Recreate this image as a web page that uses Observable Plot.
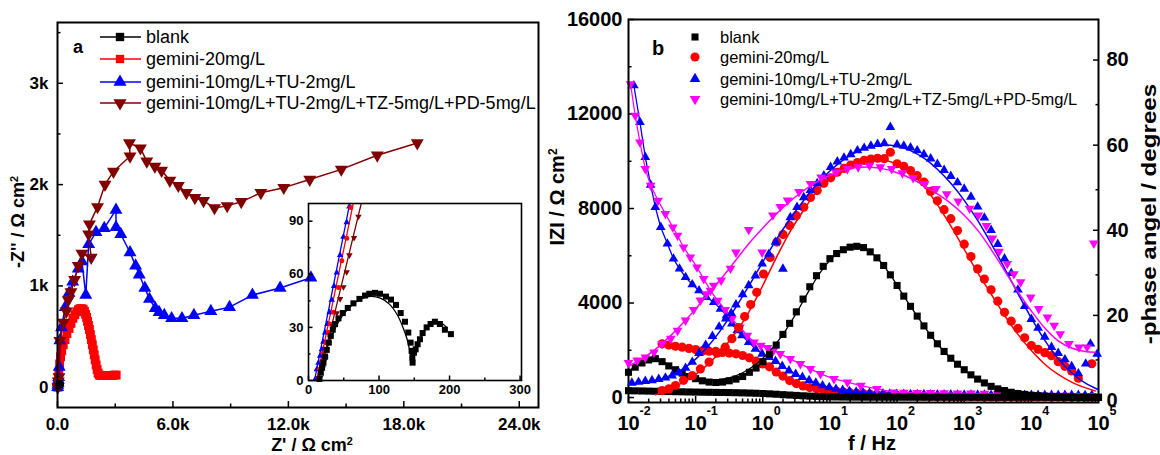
<!DOCTYPE html>
<html>
<head>
<meta charset="utf-8">
<script src="https://cdn.jsdelivr.net/npm/d3@7"></script>
<script src="https://cdn.jsdelivr.net/npm/@observablehq/plot@0.6"></script>
<style>
  html, body { margin: 0; padding: 0; background: #fff; }
  #wrap { position: relative; width: 1160px; height: 455px; overflow: hidden; background: #fff;
          font-family: "Liberation Sans", Arial, Helvetica, sans-serif; color: #000; }
  .lbl { position: absolute; white-space: nowrap; font-weight: bold; line-height: 1; }
  .lbl sup { font-size: 0.6em; vertical-align: 0.6em; line-height: 0; }
  .leg { position: absolute; white-space: nowrap; line-height: 1; transform: translateY(-50%); }
</style>
</head>
<body>
<div id="wrap"></div>
<script>
// ---------------- names & colours ----------------
const seriesNames = ["blank", "gemini-20mg/L", "gemini-10mg/L+TU-2mg/L", "gemini-10mg/L+TU-2mg/L+TZ-5mg/L+PD-5mg/L"];
const colorsA = ["#000000", "#ff0000", "#0000ff", "#800000"];
const colorsB = ["#000000", "#ff0000", "#0000ff", "#ff00ff"];

// ---------------- panel a: Nyquist (Ω cm²) ----------------
const blankRe = [15.6,17.5,19.3,21.2,23.6,25.9,28.8,31.6,34.4,37.7,42.5,48.6,55.7,63.7,72.2,80.2,86.3,94.3,101.4,109.9,117,124.1,130.7,136.8,141.5,144.8,146.2,147.2,147.6,149.5,151.9,154.7,158,161.8,167.5,173.1,179.2,186.3,193.4,201.9];
const blankIm = [0.9,4.4,7.2,10.1,13.5,17.3,21.4,25.2,28.7,31.9,35.1,38.1,41,43.6,46.1,48,49,49.5,49,47.4,45.7,42.7,38.1,33.2,27.1,21.4,16.7,12.9,10.1,15.7,17.6,20.5,23.3,26.8,30,31.9,33.2,31.9,28.7,26.2];
const blankFitRe = [14,20,27,36,47,60,74,88,102,115,126,134,140,144,147,152,160,170,180,188,196];
const blankFitIm = [0,10,19,28,36,42,46,47.5,46.5,43,37,30,23,16,10,17,25,30.5,33,32.5,30];

const g20Re = [14,40,70,110,160,220,300,390,490,600,700,800,900,1000,1090,1170,1250,1330,1400,1460,1510,1560,1610,1660,1710,1760,1810,1860,1910,1960,2010,2060,2110,2170,2250,2350,2450,2550,2650,2750,2850,2950,3050];
const g20Im = [0,60,150,230,300,360,420,470,530,580,630,680,715,745,765,775,775,770,750,720,690,650,610,570,520,470,420,370,320,270,220,175,140,120,115,115,115,115,115,115,115,120,120];

const tuRe = [9,20,33,45,58,90,120,210,400,600,790,1080,1270,1470,1620,2000,2430,3040,3040,3290,3770,4060,4250,4540,4780,5080,5280,5550,5930,6470,7090,7970,8940,10130,11570,13170];
const tuIm = [0,22,45,71,98,200,460,590,790,930,1040,1170,1240,910,1410,1530,1570,1750,1580,1510,1330,1200,1110,980,870,780,740,710,680,680,710,750,790,910,980,1080];

const tzRe = [16,40,76,120,310,460,560,700,890,1080,1270,1750,1620,1660,2080,2470,2910,3770,3740,4310,4640,5060,5410,5840,6280,6700,7140,7590,8160,8820,9550,10570,11760,13110,14750,16620,18700];
const tzIm = [0,60,100,460,640,750,860,940,1060,1200,1320,1280,1510,1610,1780,2000,2130,2280,2410,2360,2230,2180,2140,2040,1990,1920,1870,1840,1770,1790,1830,1920,1970,2050,2150,2290,2410];

// inset (high-frequency part)
const tuInRe = [9.4,11.8,14.2,16.5,18.9,21.2,23.6,26.9,29.7,33,36.3,40.1,44.8,49.5,54.2,58];
const tuInIm = [0.6,6.3,10,13.9,17.6,21.8,27.1,31.9,38.5,45.5,53.3,60.9,70.8,81.2,89.4,98.3];
const g20InRe = [13.7,15.6,18.9,21.2,25,28.3,30.7,35.4,42.5,47.2,54.2,59.9];
const g20InIm = [1.5,6.3,11,15.7,21.4,27.1,31.9,38.5,52.6,67.6,80.3,97.7];
const tzInRe = [16.5,20.3,23.6,25.9,30.7,34.4,40.1,44.8,49.5,54.2,58,64.6,70.8];
const tzInIm = [1.5,7.2,12,17.6,24.3,30.9,38.1,46.1,52.8,61.3,70.8,80.6,92.6];
const tuInFitRe = [8.5,59.5], tuInFitIm = [0,102];
const g20InFitRe = [11.5,64.5], g20InFitIm = [0,102];
const tzInFitRe = [14,76], tzInFitIm = [0,102];

// ---------------- panel b: Bode  ([log10 f, value]) ----------------
const blankLogF = [-2.0,-1.9,-1.8,-1.7,-1.6,-1.5,-1.4,-1.3,-1.2,-1.1,-1.0,-0.9,-0.8,-0.7,-0.6,-0.5,-0.4,-0.3,-0.2,-0.1,0.0,0.1,0.2,0.3,0.4,0.5,0.6,0.7,0.8,0.9,1.0,1.1,1.2,1.3,1.4,1.5,1.6,1.7,1.8,1.9,2.0,2.1,2.2,2.3,2.4,2.5,2.6,2.7,2.8,2.9,3.0,3.1,3.2,3.3,3.4,3.5,3.6,3.7,3.8,3.9,4.0,4.1,4.2,4.3,4.4,4.5,4.6,4.7,4.8,4.9,5.0];
const blankPhase = [7.1,8.3,9.3,10.0,10.3,9.6,8.6,7.7,6.9,6.1,5.6,5.1,4.8,4.7,4.8,5.1,5.5,6.1,7.1,8.1,9.6,11.3,13.5,16.0,18.6,21.3,24.3,27.2,29.8,32.0,33.8,35.0,35.9,36.5,36.7,36.4,35.4,34.0,32.2,30.0,27.5,25.0,22.6,20.3,18.0,15.8,13.8,12.0,10.4,9.0,7.7,6.5,5.5,4.6,3.8,3.2,2.8,2.4,2.1,1.9,1.7,1.6,1.5,1.4,1.3,1.3,1.2,1.2,1.2,1.2,1.2];
const blankZ = [290,284,278,272,266,260,254,248,242,236,230,226,222,218,214,210,204,198,190,181,170,156,140,122,105,90,74,60,48,38,30,25,21,19,17,16,15,15,14,14,14,14,14,13,13,13,13,13,13,13,13,13,13,12,12,12,12,12,12,12,12,12,12,12,12,12,12,12,12,12,12];
const blankPhaseFit = [[-2.0,7.3],[-1.8,9.4],[-1.6,10.1],[-1.45,9.3],[-1.3,7.2],[-1.1,6.0],[-0.9,5.4],[-0.7,5.3],[-0.5,5.8],[-0.3,7.0],[-0.1,9.0],[0.1,12.0],[0.3,16.0],[0.5,21.0],[0.7,26.6],[0.9,31.5],[1.1,34.9],[1.3,36.5],[1.5,36.4],[1.7,34.0],[1.9,30.0],[2.1,25.0],[2.3,20.3],[2.5,15.8],[2.7,12.0],[2.9,9.0],[3.1,6.5],[3.3,4.6],[3.5,3.2],[3.7,2.3],[3.9,1.7],[4.2,1.2],[4.6,0.9],[5.0,0.8]];

const g20Phase = [[-1.50,2.8],[-1.40,3.2],[-1.30,4.0],[-1.18,5.2],[-1.05,6.3],[-0.93,7.9],[-0.80,9.5],[-0.68,11.6],[-0.56,13.0],[-0.46,15.0],[-0.36,17.6],[-0.27,20.2],[-0.18,23.0],[-0.09,25.9],[0.01,30.2],[0.11,34.1],[0.21,37.7],[0.30,39.5],[0.40,41.6],[0.50,43.9],[0.61,45.9],[0.71,48.2],[0.81,49.8],[0.91,51.5],[1.01,52.8],[1.11,54.1],[1.21,55.0],[1.31,55.8],[1.41,56.4],[1.51,56.9],[1.61,57.2],[1.71,57.4],[1.81,57.3],[1.90,58.8],[2.00,56.1],[2.10,55.5],[2.20,54.5],[2.30,53.3],[2.40,51.8],[2.50,49.6],[2.60,47.4],[2.70,45.3],[2.80,43.2],[2.90,40.4],[3.00,37.2],[3.10,34.3],[3.20,31.4],[3.30,29.0],[3.40,26.5],[3.50,23.8],[3.60,21.2],[3.70,19.1],[3.80,17.4],[3.90,15.2],[4.00,13.4],[4.10,12.5],[4.20,11.7],[4.30,11.0],[4.40,9.6],[4.50,8.5],[4.60,7.4],[4.70,5.7],[4.90,9.1]];
const g20Z = [[-1.50,2273],[-1.40,2220],[-1.30,2170],[-1.20,2130],[-1.10,2080],[-1.00,2030],[-0.90,1975],[-0.80,1960],[-0.70,1950],[-0.60,1910],[-0.50,1880],[-0.40,1850],[-0.30,1780],[-0.20,1680],[-0.10,1540],[0.00,1420],[0.10,1300],[0.20,1080],[0.30,910],[0.40,720],[0.50,590],[0.60,490],[0.70,420],[0.80,370],[0.90,330],[1.00,296],[1.10,260],[1.20,230],[1.30,200],[1.40,180],[1.50,160],[1.60,140],[1.70,125],[1.80,112],[1.90,100],[2.00,90],[2.10,80],[2.20,72],[2.30,65],[2.40,58],[2.50,52],[2.60,47],[2.70,43],[2.80,39],[2.90,36],[3.00,33],[3.10,31],[3.20,29],[3.30,27],[3.40,25],[3.50,24],[3.60,23],[3.70,22],[3.80,21],[3.90,20],[4.00,20],[4.10,19],[4.20,19],[4.30,18],[4.40,18],[4.50,18],[4.60,17],[4.70,17],[4.80,17],[4.90,17]];
const g20PhaseFit = [[-1.6,1.8],[-1.4,3.0],[-1.2,4.6],[-1.0,6.6],[-0.8,9.2],[-0.6,12.5],[-0.4,16.5],[-0.2,21.5],[0,27.5],[0.2,34],[0.4,40],[0.6,45],[0.8,49.5],[1.0,52.8],[1.2,55.2],[1.4,56.6],[1.6,57.2],[1.8,57],[2.0,56],[2.2,54],[2.4,50.8],[2.6,46.5],[2.8,41.5],[3.0,36],[3.2,30.5],[3.4,25.5],[3.6,20.5],[3.8,16],[4.0,12.2],[4.2,9],[4.4,6.6],[4.6,4.8],[4.8,3.5],[4.95,2.7]];

const tuPhase = [[-1.95,4.6],[-1.85,4.8],[-1.75,5.0],[-1.65,5.2],[-1.55,5.5],[-1.45,5.8],[-1.35,6.3],[-1.25,7.0],[-1.15,8.1],[-1.05,9.5],[-0.95,11.6],[-0.85,13.5],[-0.75,15.6],[-0.65,17.8],[-0.55,19.7],[-0.47,21.0],[-0.40,23.0],[-0.30,25.4],[-0.21,27.5],[-0.11,29.8],[-0.01,32.6],[0.09,34.9],[0.19,37.7],[0.30,31.4],[0.41,43.5],[0.51,45.9],[0.61,48.2],[0.71,49.9],[0.81,51.5],[0.91,53.3],[1.01,55.3],[1.11,56.6],[1.21,57.5],[1.31,58.3],[1.41,59.2],[1.51,59.8],[1.61,60.3],[1.71,60.7],[1.81,60.9],[1.90,64.7],[2.00,60.6],[2.10,60.3],[2.20,59.9],[2.30,59.2],[2.40,58.3],[2.50,57.3],[2.60,56.0],[2.70,54.6],[2.80,53.2],[2.90,51.7],[3.00,50.2],[3.10,48.3],[3.20,46.0],[3.30,43.4],[3.40,40.5],[3.50,37.2],[3.60,33.8],[3.70,30.4],[3.80,26.5],[3.90,22.6],[4.00,19.6],[4.10,17.5],[4.20,15.4],[4.30,13.0],[4.40,11.6],[4.50,10.1],[4.60,8.5],[4.70,6.8],[4.81,9.1],[4.88,13.8],[4.98,11.4]];
const tuZ = [[-1.92,13207],[-1.83,11654],[-1.75,10172],[-1.67,9000],[-1.60,8055],[-1.52,7209],[-1.42,6506],[-1.33,5871],[-1.24,5448],[-1.15,5092],[-1.05,4783],[-0.95,4529],[-0.84,4246],[-0.73,4034],[-0.63,3754],[-0.54,3471],[-0.46,3120],[-0.38,2836],[-0.31,2624],[-0.21,2341],[-0.11,2061],[-0.01,1850],[0.09,1706],[0.19,1540],[0.29,1330],[0.39,1140],[0.49,990],[0.59,860],[0.69,730],[0.79,620],[0.89,510],[0.99,430],[1.09,360],[1.19,310],[1.29,270],[1.39,240],[1.49,215],[1.59,195],[1.69,180],[1.79,168],[1.89,158],[1.99,150],[2.1,145],[2.2,140],[2.3,136],[2.4,132],[2.5,128],[2.6,125],[2.7,122],[2.8,120],[2.9,118],[3.0,116],[3.1,114],[3.2,112],[3.3,110],[3.4,108],[3.5,107],[3.6,106],[3.7,105],[3.8,104],[3.9,103],[4.0,102],[4.1,101],[4.2,100],[4.3,100],[4.4,99],[4.5,99],[4.6,98],[4.7,98],[4.8,97],[4.9,97]];
const tuPhaseFit = [[-2.0,4.3],[-1.8,4.6],[-1.6,5.2],[-1.4,6.2],[-1.2,7.8],[-1.0,10.2],[-0.8,13.5],[-0.6,17.6],[-0.4,22.4],[-0.2,27.6],[0,33],[0.2,38.2],[0.4,43],[0.6,47.3],[0.8,51.2],[1.0,54.4],[1.2,57],[1.4,58.9],[1.6,60.1],[1.8,60.5],[2.0,60.2],[2.2,59.2],[2.4,57.4],[2.6,54.8],[2.8,51.5],[3.0,47.5],[3.2,42.8],[3.4,37.4],[3.6,31.6],[3.8,25.6],[4.0,19.8],[4.2,14.6],[4.4,10.3],[4.6,7],[4.8,4.6],[5.0,3.0]];

const tzPhase = [[-2.0,9.3],[-1.87,9.9],[-1.75,10.6],[-1.62,11.8],[-1.50,13.8],[-1.37,15.0],[-1.27,16.9],[-1.15,19.3],[-1.03,21.8],[-0.93,24.0],[-0.84,25.5],[-0.73,27.5],[-0.62,28.7],[-0.48,31.5],[-0.40,35.3],[-0.21,40.6],[-0.01,35.3],[0.15,44.0],[0.26,46.0],[0.37,47.5],[0.54,49.5],[0.71,51.4],[0.87,52.9],[1.09,54.1],[1.26,54.9],[1.42,55.3],[1.59,55.7],[1.75,55.3],[1.92,54.9],[2.08,53.9],[2.24,52.8],[2.41,51.4],[2.58,50.2],[2.74,49.0],[2.91,47.3],[3.08,45.6],[3.21,44.0],[3.33,41.5],[3.42,38.6],[3.52,35.5],[3.64,32.6],[3.74,30.2],[3.84,28.3],[3.99,24.7],[4.11,22.0],[4.24,20.0],[4.34,18.1],[4.43,16.1],[4.56,13.8],[4.71,13.0],[4.83,13.0],[4.93,37.4]];
const tzZ = [[-1.97,13270],[-1.90,11937],[-1.83,10807],[-1.75,9680],[-1.67,8974],[-1.56,8339],[-1.45,7776],[-1.34,7209],[-1.27,6857],[-1.18,6362],[-1.08,5939],[-0.98,5516],[-0.88,5025],[-0.78,4529],[-0.67,4106],[-0.56,3712],[-0.46,3331],[-0.34,2976],[-0.23,2624],[-0.13,2341],[-0.03,2200],[0.07,2100],[0.16,1990],[0.26,1850],[0.41,1638],[0.56,1426],[0.71,1215],[0.86,1003],[1.06,791],[1.26,648],[1.46,508],[1.70,367],[1.95,226],[2.1,215],[2.3,205],[2.5,198],[2.7,190],[2.9,183],[3.1,175],[3.3,165],[3.5,150],[3.7,130],[3.9,110],[4.1,95],[4.3,88],[4.5,82],[4.7,78],[4.9,75]];
const tzPhaseFit = [[-2.0,8.5],[-1.8,10.3],[-1.6,12.5],[-1.4,15.3],[-1.2,18.5],[-1.0,22],[-0.8,25.8],[-0.6,29.5],[-0.4,33.5],[-0.2,37.5],[0,41],[0.2,44.3],[0.4,47.2],[0.6,49.7],[0.8,51.8],[1.0,53.4],[1.2,54.6],[1.4,55.2],[1.6,55.3],[1.8,54.9],[2.0,54],[2.2,52.7],[2.4,51],[2.6,49],[2.8,46.8],[3.0,44],[3.2,40.5],[3.4,36],[3.6,31],[3.8,26],[4.0,21.5],[4.2,17.5],[4.4,14.5],[4.6,12.8],[4.8,12.0],[4.95,11.8]];

// ---------------- ticks & labels ----------------
const aXTicks = [0, 6000, 12000, 18000, 24000], aXTickLabels = ["0.0", "6.0k", "12.0k", "18.0k", "24.0k"], aXMinor = [3000, 9000, 15000, 21000];
const aYTicks = [0, 1000, 2000, 3000], aYTickLabels = ["0", "1k", "2k", "3k"], aYMinor = [500, 1500, 2500, 3500];
const inXTicks = [0, 100, 200, 300], inXMinor = [50, 150, 250];
const inYTicks = [0, 30, 60, 90], inYMinor = [15, 45, 75];
const bZTicks = [0, 4000, 8000, 12000, 16000], bZMinor = [2000, 6000, 10000, 14000];
const bPTicks = [0, 20, 40, 60, 80], bPMinor = [10, 30, 50, 70];
const bDecades = [-2, -1, 0, 1, 2, 3, 4, 5];

// ---------------- helpers ----------------
const FONT = '"Liberation Sans", Arial, Helvetica, sans-serif';
const sqrt3 = Math.sqrt(3);
const triDown = { draw(ctx, size) { const y = -Math.sqrt(size / (sqrt3 * 3)); ctx.moveTo(0, -y * 2); ctx.lineTo(-sqrt3 * y, y); ctx.lineTo(sqrt3 * y, y); ctx.closePath(); } };
const nyq = (re, im) => re.map((x, i) => ({x, y: im[i]}));
const bode = arr => arr.map(([lf, v]) => ({f: 10 ** lf, v}));
const blankPhasePts = blankLogF.map((lf, i) => ({f: 10 ** lf, v: blankPhase[i]}));
const blankZPts = blankLogF.map((lf, i) => ({f: 10 ** lf, v: blankZ[i]}));
const mapOf = (k, v) => new Map(k.map((t, i) => [t, v[i]]));
const aXLab = mapOf(aXTicks, aXTickLabels), aYLab = mapOf(aYTicks, aYTickLabels);
const bXMinor = [];
for (let e = -2; e < 5; e++) for (let m = 2; m <= 9; m++) bXMinor.push(m * 10 ** e);
const baseStyle = {fontFamily: FONT, background: "transparent", color: "#000", overflow: "visible"};
const tk = {strokeWidth: 1.5, label: null};
const bold = (s) => ({fontSize: s, fontWeight: "bold"});

// ---------------- panel a main ----------------
const plotA = Plot.plot({
  width: 560, height: 455, marginLeft: 57, marginRight: 22, marginTop: 22, marginBottom: 48,
  x: {domain: [0, 25000]}, y: {domain: [-200, 3600]},
  style: baseStyle,
  marks: [
    Plot.axisX({...tk, ticks: aXMinor, tickSize: -3.5, tickFormat: () => ""}),
    Plot.axisY({...tk, ticks: aYMinor, tickSize: -3.5, tickFormat: () => ""}),
    Plot.axisX({...tk, ...bold(17), ticks: aXTicks, tickSize: -6, tickPadding: 16, tickFormat: d => aXLab.get(d)}),
    Plot.axisY({...tk, ...bold(17), ticks: aYTicks, tickSize: -6, tickPadding: 15, tickFormat: d => aYLab.get(d)}),
    Plot.line(nyq(g20Re, g20Im), {x: "x", y: "y", stroke: colorsA[1], strokeWidth: 1.5}),
    Plot.dot(nyq(g20Re, g20Im), {x: "x", y: "y", symbol: "square", r: 5, fill: colorsA[1]}),
    Plot.line(nyq(tuRe, tuIm), {x: "x", y: "y", stroke: colorsA[2], strokeWidth: 1.5}),
    Plot.dot(nyq(tuRe, tuIm), {x: "x", y: "y", symbol: "triangle", r: 4.8, fill: colorsA[2]}),
    Plot.line(nyq(tzRe, tzIm), {x: "x", y: "y", stroke: colorsA[3], strokeWidth: 1.5}),
    Plot.dot(nyq(tzRe, tzIm), {x: "x", y: "y", symbol: triDown, r: 4.8, fill: colorsA[3]}),
    Plot.line(nyq(blankRe, blankIm), {x: "x", y: "y", stroke: colorsA[0], strokeWidth: 1.5}),
    Plot.dot(nyq(blankRe, blankIm), {x: "x", y: "y", symbol: "square", r: 2.5, fill: colorsA[0]}),
    Plot.frame({stroke: "#000", strokeWidth: 2})
  ]
});

// ---------------- panel a inset ----------------
const plotIn = Plot.plot({
  width: 260, height: 205, marginLeft: 38, marginRight: 9, marginTop: 8, marginBottom: 20,
  x: {domain: [0, 302]}, y: {domain: [0, 100]},
  style: baseStyle,
  marks: [
    Plot.axisX({...tk, ticks: inXMinor, tickSize: -2.5, tickFormat: () => ""}),
    Plot.axisY({...tk, ticks: inYMinor, tickSize: -2.5, tickFormat: () => ""}),
    Plot.axisX({...tk, ...bold(13), ticks: inXTicks, tickSize: -4.5, tickPadding: 9}),
    Plot.axisY({...tk, ...bold(13), ticks: inYTicks, tickSize: -4.5, tickPadding: 9.5}),
    Plot.line(nyq(blankFitRe, blankFitIm), {x: "x", y: "y", stroke: colorsA[0], strokeWidth: 1.3, curve: "catmull-rom"}),
    Plot.line(nyq(tuInFitRe, tuInFitIm), {x: "x", y: "y", stroke: colorsA[2], strokeWidth: 1.3, clip: true}),
    Plot.line(nyq(g20InFitRe, g20InFitIm), {x: "x", y: "y", stroke: colorsA[1], strokeWidth: 1.3, clip: true}),
    Plot.line(nyq(tzInFitRe, tzInFitIm), {x: "x", y: "y", stroke: colorsA[3], strokeWidth: 1.3, clip: true}),
    Plot.dot(nyq(tuInRe, tuInIm), {x: "x", y: "y", symbol: "triangle", r: 2.4, fill: colorsA[2]}),
    Plot.dot(nyq(g20InRe, g20InIm), {x: "x", y: "y", symbol: "circle", r: 2.5, fill: colorsA[1]}),
    Plot.dot(nyq(tzInRe, tzInIm), {x: "x", y: "y", symbol: triDown, r: 2.4, fill: colorsA[3]}),
    Plot.dot(nyq(blankRe, blankIm), {x: "x", y: "y", symbol: "square", r: 3.4, fill: colorsA[0]}),
    Plot.frame({stroke: "#000", strokeWidth: 1.6})
  ]
});

// ---------------- panel b: |Z| ----------------
const bGeom = {width: 600, height: 455, marginLeft: 68, marginRight: 62, marginTop: 19, marginBottom: 53};
const plotBZ = Plot.plot({
  ...bGeom,
  x: {type: "log", domain: [0.01, 1e5]}, y: {domain: [-210, 16000]},
  style: baseStyle,
  marks: [
    Plot.axisX({...tk, ticks: bXMinor, tickSize: -3.5, tickFormat: () => ""}),
    Plot.axisX({...tk, ...bold(20), ticks: bDecades.map(e => 10 ** e), tickSize: -6, tickPadding: 19, tickFormat: () => "10"}),
    Plot.text(bDecades, {x: e => 10 ** e, text: e => String(e), frameAnchor: "bottom", dx: 11, dy: 12, textAnchor: "start", ...bold(12.5)}),
    Plot.axisY({...tk, ticks: bZMinor, tickSize: -3.5, tickFormat: () => ""}),
    Plot.axisY({...tk, ...bold(20), ticks: bZTicks, tickSize: -6, tickPadding: 12, tickFormat: d => String(d)}),
    Plot.line(bode(g20Z), {x: "f", y: "v", stroke: colorsB[1], strokeWidth: 1.3}),
    Plot.dot(bode(g20Z), {x: "f", y: "v", symbol: "circle", r: 4.6, fill: colorsB[1]}),
    Plot.line(bode(tuZ), {x: "f", y: "v", stroke: colorsB[2], strokeWidth: 1.3}),
    Plot.dot(bode(tuZ), {x: "f", y: "v", symbol: "triangle", r: 3.6, fill: colorsB[2]}),
    Plot.line(bode(tzZ), {x: "f", y: "v", stroke: colorsB[3], strokeWidth: 1.3}),
    Plot.dot(bode(tzZ), {x: "f", y: "v", symbol: triDown, r: 3.6, fill: colorsB[3]}),
    Plot.line(blankZPts, {x: "f", y: "v", stroke: colorsB[0], strokeWidth: 1.3}),
    Plot.dot(blankZPts, {x: "f", y: "v", symbol: "square", r: 4, fill: colorsB[0]}),
    Plot.frame({stroke: "#000", strokeWidth: 2})
  ]
});

// ---------------- panel b: phase ----------------
const plotBP = Plot.plot({
  ...bGeom,
  x: {type: "log", domain: [0.01, 1e5], axis: null}, y: {domain: [0, 90]},
  style: baseStyle,
  marks: [
    Plot.axisY({...tk, anchor: "right", ticks: bPMinor, tickSize: -3.5, tickFormat: () => ""}),
    Plot.axisY({...tk, ...bold(20), anchor: "right", ticks: bPTicks, tickSize: -6, tickPadding: 14, dy: -2}),
    Plot.dot(blankPhasePts, {x: "f", y: "v", symbol: "square", r: 4, fill: colorsB[0]}),
    Plot.line(blankPhaseFit.map(([lf, v]) => ({f: 10 ** lf, v})), {x: "f", y: "v", stroke: colorsB[0], strokeWidth: 1.3, curve: "catmull-rom"}),
    Plot.dot(bode(g20Phase), {x: "f", y: "v", symbol: "circle", r: 4.6, fill: colorsB[1]}),
    Plot.line(bode(g20PhaseFit), {x: "f", y: "v", stroke: colorsB[1], strokeWidth: 1.5, curve: "catmull-rom"}),
    Plot.dot(bode(tuPhase), {x: "f", y: "v", symbol: "triangle", r: 3.6, fill: colorsB[2]}),
    Plot.line(bode(tuPhaseFit), {x: "f", y: "v", stroke: colorsB[2], strokeWidth: 1.5, curve: "catmull-rom"}),
    Plot.dot(bode(tzPhase), {x: "f", y: "v", symbol: triDown, r: 3.6, fill: colorsB[3]}),
    Plot.line(bode(tzPhaseFit), {x: "f", y: "v", stroke: colorsB[3], strokeWidth: 1.5, curve: "catmull-rom"})
  ]
});

// ---------------- assemble ----------------
const wrap = document.getElementById("wrap");
function place(node, left, top) { node.style.position = "absolute"; node.style.left = left + "px"; node.style.top = top + "px"; wrap.appendChild(node); }
place(plotA, 0, 0);
place(plotIn, 270, 195);
place(plotBZ, 560, 0);
place(plotBP, 560, 0);

function lbl(html, x, y, size, rot, stretch) {
  const d = document.createElement("div");
  d.className = "lbl"; d.innerHTML = html; d.style.fontSize = size + "px";
  d.style.left = x + "px"; d.style.top = y + "px";
  d.style.transform = "translate(-50%,-50%)" + (rot ? ` rotate(${rot}deg)` : "") + (stretch ? ` scaleX(${stretch})` : "");
  wrap.appendChild(d);
}
lbl("-Z'' / &Omega; cm<sup>2</sup>", 18, 222, 18, -90);
lbl("Z' / &Omega; cm<sup>2</sup>", 312, 445, 18);
lbl("IZI / &Omega; cm<sup>2</sup>", 557, 197, 20, -90);
lbl("f / Hz", 872, 443, 20);
lbl("-phase angel / degrees", 1148, 214, 21, -90, 1.15);
lbl("a", 78, 47, 18);
lbl("b", 658, 48, 20);

// legends
const NS = "http://www.w3.org/2000/svg";
const ov = document.createElementNS(NS, "svg");
ov.setAttribute("width", 1160); ov.setAttribute("height", 455);
ov.style.position = "absolute"; ov.style.left = "0"; ov.style.top = "0";
wrap.appendChild(ov);
function sym(type, size, cx, cy, fill) {
  const p = document.createElementNS(NS, "path");
  p.setAttribute("d", d3.symbol().type(type).size(size)());
  p.setAttribute("transform", `translate(${cx},${cy})`);
  p.setAttribute("fill", fill); ov.appendChild(p);
}
function seg(x1, x2, y, stroke) {
  const l = document.createElementNS(NS, "line");
  l.setAttribute("x1", x1); l.setAttribute("x2", x2); l.setAttribute("y1", y); l.setAttribute("y2", y);
  l.setAttribute("stroke", stroke); l.setAttribute("stroke-width", 1.5); ov.appendChild(l);
}
function legText(t, x, y, size) {
  const d = document.createElement("div"); d.className = "leg"; d.textContent = t;
  d.style.left = x + "px"; d.style.top = y + "px"; d.style.fontSize = size + "px"; wrap.appendChild(d);
}
const legARows = [37, 59, 82, 103];
const legATypes = [d3.symbolSquare, d3.symbolSquare, d3.symbolTriangle, triDown];
const legASizes = [70, 70, 75, 75];
seriesNames.forEach((n, i) => {
  seg(100, 141, legARows[i], colorsA[i]);
  sym(legATypes[i], legASizes[i], 120, legARows[i], colorsA[i]);
  legText(n, 146, legARows[i], 18);
});
const legBRows = [37, 57, 79, 99];
const legBTypes = [d3.symbolSquare, d3.symbolCircle, d3.symbolTriangle, triDown];
const legBSizes = [50, 66, 50, 50];
seriesNames.forEach((n, i) => {
  sym(legBTypes[i], legBSizes[i], 695, legBRows[i], colorsB[i]);
  legText(n, 720, legBRows[i], 16.5);
});
</script>
</body>
</html>
